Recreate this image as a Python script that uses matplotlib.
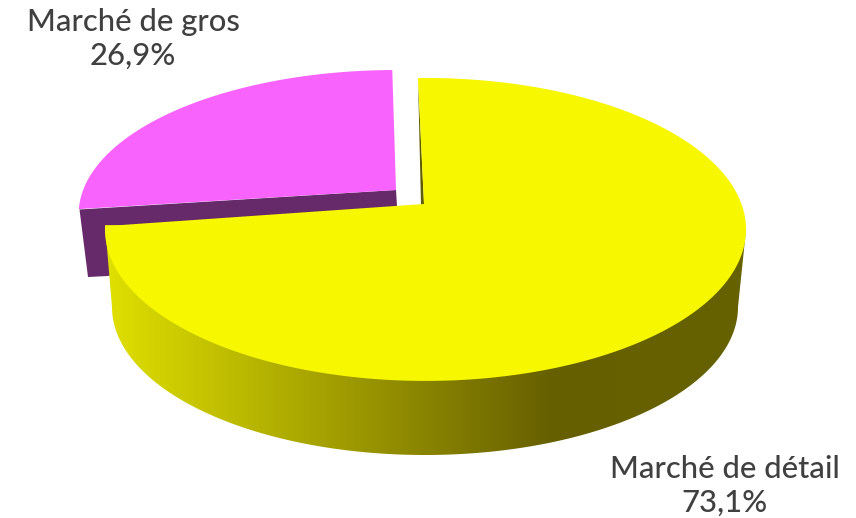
import numpy as np
import matplotlib
matplotlib.use('Agg')
import matplotlib.pyplot as plt
from matplotlib.colors import LinearSegmentedColormap
from matplotlib.patches import Polygon

labels = ['Marché de gros', 'Marché de détail']
shares = [26.9, 73.1]


# perspective disc: t in radians clockwise from the back of the pie, pixels relative to the apex
def disc(t, sx=1.0, sy=1.0):
    u, v = np.sin(t), np.cos(t)
    w = 1 + 0.168 * v
    return 316 * u / w * sx, -147.2 * v / w * sy


def face(apex, start, sweep, sx=1.0, sy=1.0, shift=0.0):
    t = np.radians(np.linspace(start, start + sweep, 300))
    x, y = disc(t, sx, sy)
    pts = np.column_stack([apex[0] + x + shift, apex[1] + y])
    return np.vstack([apex, pts])


fig = plt.figure(figsize=(8.56, 5.18), dpi=100)
ax = fig.add_axes([0, 0, 1, 1])
ax.axis('off')

start = -1.6
sweep_detail = shares[1] / 100 * 360
sweep_gros = shares[0] / 100 * 360

# magenta slice, pulled out
gros_apex = (396, 190)
ax.add_patch(Polygon([(79.5, 209.5), (396, 190), (397, 206), (108, 276), (88, 277)],
                     fc='#662a6b', ec='none', zorder=1))
ax.add_patch(Polygon(face(gros_apex, start + sweep_detail + 0.8, sweep_gros, 0.99, 0.952),
                     fc='#f763fc', ec='none', zorder=2))

# yellow slice side, gradient clipped to the outline
apex = (424, 204)
t = np.linspace(np.pi, 0, 200)
side = np.vstack([[(105, 225)],
                  np.column_stack([425 + 313 * np.cos(t), 307 + 148 * np.sin(t)]),
                  [(746, 230)]])
side_patch = Polygon(side, fc='none', ec='none', zorder=3)
ax.add_patch(side_patch)
cmap = LinearSegmentedColormap.from_list('side', [(0, '#e0e000'), (0.70, '#665f00'), (1, '#666200')])
img = ax.imshow(np.linspace(0, 1, 640).reshape(1, -1), cmap=cmap, aspect='auto',
                extent=(105, 746, 460, 200), zorder=3)
img.set_clip_path(side_patch)

# thin inner wall seen beside the gap
ax.add_patch(Polygon([(418, 78), (421, 205), (424, 204)], fc='#5f5c00', ec='none', zorder=3))
ax.add_patch(Polygon(face(apex, start, sweep_detail, shift=1.5), fc='#f7f700', ec='none', zorder=4))

ax.set_xlim(0, 856)
ax.set_ylim(518, 0)

font = dict(family='Lato', fontsize=22.3, fontweight='medium', color='#404040', ha='center', va='center', linespacing=1.22)
ax.text(133, 39, f"{labels[0]}\n{shares[0]:.1f}%".replace('.', ','), **font)
ax.text(725, 486, f"{labels[1]}\n{shares[1]:.1f}%".replace('.', ','), **font)

fig.savefig('out.png', dpi=100)
